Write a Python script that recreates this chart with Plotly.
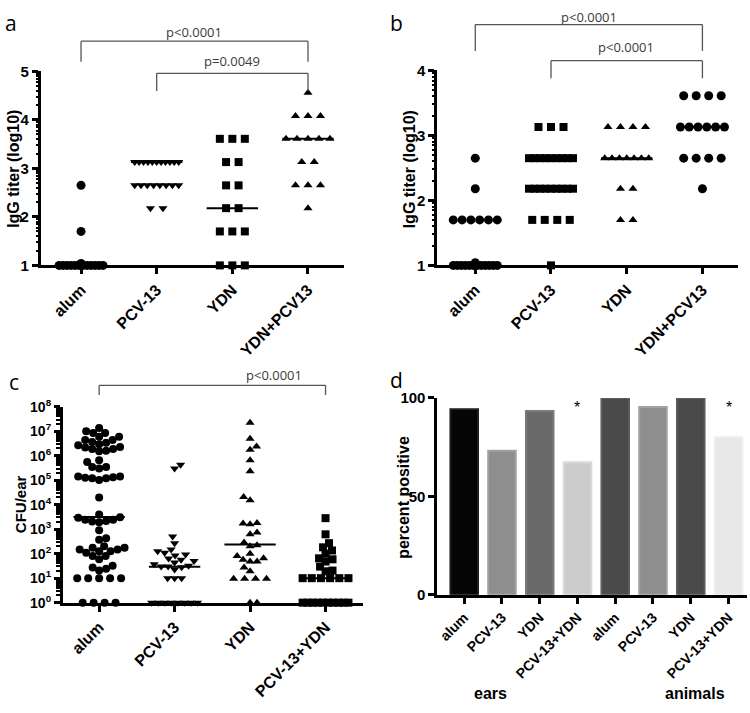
import numpy as np
import plotly.graph_objects as go

W, H = 750, 713

# ---------------- Panel a: IgG titer (log10) ----------------
a_groups = ["alum", "PCV-13", "YDN", "YDN+PCV13"]
a_alum = [2.65, 1.70, 1.04, 1.0, 1.0, 1.0, 1.0, 1.0, 1.0, 1.0, 1.0, 1.0, 1.0, 1.0, 1.0]
a_pcv = [3.13, 3.13, 3.13, 3.13, 3.13, 3.13, 3.13, 3.13, 3.13, 3.13, 3.13,
         2.65, 2.65, 2.65, 2.65, 2.65, 2.65, 2.65, 2.65, 2.18, 2.18]
a_ydn = [3.61, 3.61, 3.61, 3.13, 3.13, 2.65, 2.65, 2.18, 2.18, 1.70, 1.70, 1.70, 1.0, 1.0, 1.0]
a_combo = [4.56, 4.08, 4.08, 4.08, 3.61, 3.61, 3.61, 3.61, 3.61, 3.13, 3.13, 2.65, 2.65, 2.65, 2.18]
a_medians = [1.0, 3.13, 2.18, 3.61]

# ---------------- Panel b: IgG titer (log10) ----------------
b_groups = ["alum", "PCV-13", "YDN", "YDN+PCV13"]
b_alum = [2.65, 2.18, 1.70, 1.70, 1.70, 1.70, 1.70, 1.70, 1.04,
          1.0, 1.0, 1.0, 1.0, 1.0, 1.0, 1.0, 1.0, 1.0, 1.0, 1.0, 1.0]
b_pcv = [3.13, 3.13, 3.13, 2.65, 2.65, 2.65, 2.65, 2.65, 2.65, 2.65, 2.65, 2.65,
         2.18, 2.18, 2.18, 2.18, 2.18, 2.18, 2.18, 2.18, 2.18, 1.70, 1.70, 1.70, 1.70, 1.0]
b_ydn = [3.13, 3.13, 3.13, 3.13, 2.65, 2.65, 2.65, 2.65, 2.65, 2.65, 2.65, 2.18, 2.18, 1.70, 1.70]
b_combo = [3.61, 3.61, 3.61, 3.61, 3.13, 3.13, 3.13, 3.13, 3.13, 3.13, 2.65, 2.65, 2.65, 2.65, 2.18]
b_medians = [1.0, 2.18, 2.65, 3.13]

# ---------------- Panel c: CFU/ear (log10 of CFU) ----------------
c_groups = ["alum", "PCV-13", "YDN", "PCV-13+YDN"]
c_alum_log = [7.13, 7.0, 6.93, 6.77, 6.77, 6.93, 6.64, 6.53, 6.43, 6.34, 6.27, 6.2, 6.18, 6.27,
              6.36, 6.47, 6.56, 6.64, 5.81, 5.74, 5.54, 5.48, 5.54, 5.15, 5.1, 5.08, 5.01, 5.08,
              5.12, 5.15, 4.29, 3.6, 3.49, 3.47, 3.39, 3.39, 3.33, 3.31, 3.28, 2.96, 2.63, 2.57,
              2.3, 2.24, 2.24, 2.17, 2.17, 2.1, 2.1, 2.04, 1.9, 1.9, 1.77, 1.51, 1.44, 1.38, 1.31,
              1.0, 1.0, 1.0, 1.0, 1.0, 0.0, 0.0, 0.0, 0.0]
c_pcv_log = [5.48, 5.63, 2.7, 2.43, 2.17, 2.1, 2.04, 1.97, 1.93, 1.8, 1.75, 1.7, 1.64, 1.57,
             1.51, 1.48, 1.48, 1.45, 1.35, 1.0, 1.0, 1.0, 0.0, 0.0, 0.0, 0.0, 0.0, 0.0, 0.0, 0.0]
c_ydn_log = [7.35, 6.69, 6.38, 6.24, 5.81, 5.37, 4.31, 4.18, 3.23, 3.2, 3.25, 2.79, 2.86, 2.34,
             2.3, 2.46, 1.9, 1.75, 1.68, 1.68, 1.81, 2.0, 1.44, 1.28, 0.98, 0.98, 0.98, 0.98, 0.0, 0.0]
c_combo_log = [3.45, 2.79, 2.43, 2.26, 2.13, 2.0, 1.81, 1.68, 1.77, 1.31, 1.47, 1.28,
               1.0, 1.0, 1.0, 1.0, 1.0, 1.0, 0.0, 0.0, 0.0, 0.0, 0.0, 0.0, 0.0, 0.0, 0.0, 0.0]
c_medians_log = [3.5, 1.47, 2.37, 1.0]

# ---------------- Panel d: percent positive ----------------
d_labels = ["alum", "PCV-13", "YDN", "PCV-13+YDN", "alum", "PCV-13", "YDN", "PCV-13+YDN"]
d_values = [94.3, 73.2, 93.4, 67.3, 100, 95.4, 100, 80.2]
d_fill = ["#050505", "#8e8e8e", "#6a6a6a", "#cccccc", "#4a4a4a", "#8e8e8e", "#4a4a4a", "#e8e8e8"]
d_edge = ["#1e1e1e", "#a2a2a2", "#7a7a7a", "#d9d9d9", "#5c5c5c", "#a2a2a2", "#5c5c5c", "#efefef"]

# ---------------- helpers ----------------
CAT_PX = 75.7  # pixels per category in the dot plots


def row_offsets(vals, spacing=12.5, maxspan=44.0, unit=CAT_PX):
    vals = np.asarray(vals, dtype=float)
    offs = np.zeros(len(vals))
    for v in np.unique(vals):
        idx = np.where(vals == v)[0]
        n = len(idx)
        if n > 1:
            span = min((n - 1) * spacing, maxspan)
            offs[idx] = np.linspace(-span / 2, span / 2, n) / unit
    return offs


def beeswarm(vals, ypx_per_unit, d=7.0, unit=CAT_PX, maxspan=46.0):
    vals = np.asarray(vals, dtype=float)
    offs = np.zeros(len(vals))
    uniq, counts = np.unique(vals, return_counts=True)
    order = np.argsort(vals, kind="stable")
    placed = []
    flip = 1
    for i in order:
        y = vals[i] * ypx_per_unit
        n_same = counts[np.searchsorted(uniq, vals[i])]
        if n_same >= 4:
            continue
        found = None
        k = 0
        while found is None:
            cands = [0.0] if k == 0 else [flip * k * 0.5, -flip * k * 0.5]
            for x in cands:
                if all((x - px) ** 2 + (y - py) ** 2 >= d * d for px, py in placed):
                    found = x
                    break
            k += 1
        if found != 0:
            flip = -flip
        placed.append((found, y))
        offs[i] = found / unit
    for v, n in zip(uniq, counts):
        if n >= 4:
            idx = np.where(vals == v)[0]
            span = min((n - 1) * 11.0, maxspan)
            offs[idx] = np.linspace(-span / 2, span / 2, n) / unit
    return offs


def dx(px):
    return px / W


def dy(py):
    return 1 - py / H


BOLD = dict(family="Liberation Sans, Arial, sans-serif", color="black", weight="bold")
fig = go.Figure()


def add_dots(xa, ya, groups_vals, symbols, sizes):
    for i, (vals, sym, sz) in enumerate(zip(groups_vals, symbols, sizes)):
        offs = row_offsets(vals)
        fig.add_trace(go.Scatter(
            x=i + offs, y=vals, mode="markers", xaxis=xa, yaxis=ya,
            marker=dict(symbol=sym, size=sz, color="black", line=dict(width=0)),
            cliponaxis=False, showlegend=False, hoverinfo="skip"))


def add_medians(xa, ya, meds, half=0.34):
    for i, m in enumerate(meds):
        fig.add_trace(go.Scatter(
            x=[i - half, i + half], y=[m, m], mode="lines", xaxis=xa, yaxis=ya,
            line=dict(color="black", width=2), cliponaxis=False,
            showlegend=False, hoverinfo="skip"))


add_dots("x", "y", [a_alum, a_pcv, a_ydn, a_combo],
         ["circle", "triangle-down", "square", "triangle-up"], [9, 8, 8, 8])
add_medians("x", "y", a_medians)

add_dots("x2", "y2", [b_alum, b_pcv, b_ydn, b_combo],
         ["circle", "square", "triangle-up", "circle"], [9, 8, 8, 9])
add_medians("x2", "y2", b_medians)

c_lists = [c_alum_log, c_pcv_log, c_ydn_log, c_combo_log]
c_syms = ["circle", "triangle-down", "triangle-up", "square"]
for i, (vals, sym) in enumerate(zip(c_lists, c_syms)):
    offs = beeswarm(vals, 25.2, d=7.0)
    fig.add_trace(go.Scatter(
        x=i + offs, y=[10 ** v for v in vals], mode="markers", xaxis="x3", yaxis="y3",
        marker=dict(symbol=sym, size=8, color="black", line=dict(width=0)),
        cliponaxis=False, showlegend=False, hoverinfo="skip"))
for i, m in enumerate(c_medians_log):
    fig.add_trace(go.Scatter(
        x=[i - 0.34, i + 0.34], y=[10 ** m, 10 ** m], mode="lines", xaxis="x3", yaxis="y3",
        line=dict(color="black", width=2), cliponaxis=False, showlegend=False, hoverinfo="skip"))

fig.add_trace(go.Bar(
    x=list(range(len(d_values))), y=d_values, xaxis="x4", yaxis="y4", width=0.73,
    marker=dict(color=d_fill, line=dict(color=d_edge, width=2)),
    showlegend=False, hoverinfo="skip"))

fig.add_trace(go.Scatter(x=[0], y=[1], xaxis="x", yaxis="y5", mode="markers",
                         marker=dict(opacity=0), showlegend=False, hoverinfo="skip"))
fig.add_trace(go.Scatter(x=[0], y=[1], xaxis="x2", yaxis="y6", mode="markers",
                         marker=dict(opacity=0), showlegend=False, hoverinfo="skip"))


def xax(dom, rng, labels, anchor, size=16):
    return dict(domain=dom, range=rng, anchor=anchor, tickmode="array",
                tickvals=list(range(len(labels))), ticktext=labels, tickangle=-45,
                tickfont=dict(size=size, **BOLD), ticks="outside", ticklen=6, tickwidth=3,
                tickcolor="black", showline=True, linewidth=3, linecolor="black",
                showgrid=False, zeroline=False, fixedrange=True)


def yax(dom, rng, tvals, anchor, minor=None, ttext=None, typ="linear", size=15):
    d = dict(domain=dom, range=rng, anchor=anchor, tickmode="array", tickvals=tvals,
             tickfont=dict(size=size, **BOLD), ticks="outside", ticklen=6, tickwidth=3,
             tickcolor="black", showline=True, linewidth=3, linecolor="black",
             showgrid=False, zeroline=False, type=typ, fixedrange=True)
    if ttext is not None:
        d["ticktext"] = ttext
    if minor is not None:
        d["minor"] = dict(tickmode="array", tickvals=minor, ticks="outside", ticklen=4,
                          tickwidth=2, tickcolor="black", showgrid=False)
    return d


def minor_axis(over, anchor, rng, vals):
    return dict(overlaying=over, anchor=anchor, side="left", range=rng, tickmode="array",
                tickvals=vals, ticks="outside", ticklen=4, tickwidth=2, tickcolor="black",
                showticklabels=False, showline=False, showgrid=False, zeroline=False,
                fixedrange=True)


def log_minor(lo, hi):
    return [n + np.log10(k) for n in range(lo, hi) for k in range(2, 10)]


layout_axes = dict(
    xaxis=xax([dx(40), dx(343)], [-0.53, 3.47], a_groups, "y"),
    yaxis=yax([dy(262), dy(63)], [1, 5], [1, 2, 3, 4, 5], "x"),
    yaxis5=minor_axis("y", "x", [1, 5], log_minor(1, 5)),
    xaxis2=xax([dx(437), dx(738)], [-0.50, 3.47], b_groups, "y2"),
    yaxis2=yax([dy(262), dy(62)], [1, 4], [1, 2, 3, 4], "x2"),
    yaxis6=minor_axis("y2", "x2", [1, 4], log_minor(1, 4)),
    xaxis3=xax([dx(62), dx(362)], [-0.48, 3.49], c_groups, "y3"),
    yaxis3=yax([dy(608), dy(407)], [0, 8], [10 ** n for n in range(9)], "x3",
               minor=[k * 10 ** n for n in range(8) for k in range(2, 10)],
               ttext=["10<sup>%d</sup>" % n for n in range(9)], typ="log", size=14),
    xaxis4=xax([dx(437), dx(747)], [-0.71, 7.49], d_labels, "y4", size=14),
    yaxis4=yax([dy(600), dy(398)], [0, 100], [0, 50, 100], "x4", size=15),
)

ann = []
shapes = []
LETTER = dict(family="Open Sans, sans-serif", size=21, color="black")
PFONT = dict(family="Open Sans, sans-serif", size=13, color="#3a3a3a")

for txt, x, y in [("a", 10, 13), ("b", 396, 13), ("c", 13, 382), ("d", 396, 380)]:
    ann.append(dict(text=txt, x=dx(x), y=dy(y), xref="paper", yref="paper",
                    showarrow=False, xanchor="center", yanchor="middle", font=LETTER))

for txt, x, y, s in [("IgG titer (log10)", 13, 163, 16), ("IgG titer (log10)", 409, 163, 16),
                     ("CFU/ear", 19, 507, 15), ("percent positive", 403, 500, 16)]:
    ann.append(dict(text=txt, x=dx(x), y=dy(y), xref="paper", yref="paper", textangle=-90,
                    showarrow=False, xanchor="center", yanchor="middle",
                    font=dict(size=s, **BOLD)))


def bracket(xref, i0, i1, top, leg, label, lx_paper, ly):
    for (xa, ya, xb, yb) in [(i0, leg, i0, top), (i0, top, i1, top), (i1, top, i1, leg)]:
        shapes.append(dict(type="line", xref=xref, yref="paper", x0=xa, x1=xb,
                           y0=dy(ya), y1=dy(yb), line=dict(color="#555555", width=1.3)))
    ann.append(dict(text=label, x=lx_paper, y=dy(ly), xref="paper", yref="paper",
                    showarrow=False, xanchor="center", yanchor="middle", font=PFONT))


bracket("x", 0, 3, 32, 53, "p<0.0001", dx(193), 23)
bracket("x", 1, 3, 65, 83, "p=0.0049", dx(231), 52)
bracket("x2", 0, 3, 15, 42, "p<0.0001", dx(589), 7)
bracket("x2", 1, 3, 52, 70, "p<0.0001", dx(626), 38)
bracket("x3", 0, 3, 385, 395, "p<0.0001", dx(273), 374)

for x in [3, 7]:
    ann.append(dict(text="*", x=x, y=dy(408), xref="x4", yref="paper", showarrow=False,
                    xanchor="center", yanchor="middle",
                    font=dict(family="Liberation Sans, Arial", size=16, color="black")))

for txt, x in [("ears", 490), ("animals", 695)]:
    ann.append(dict(text=txt, x=dx(x), y=dy(701), xref="paper", yref="paper",
                    showarrow=False, xanchor="center", yanchor="middle",
                    font=dict(size=16, **BOLD)))

fig.update_layout(
    width=W, height=H, margin=dict(l=0, r=0, t=0, b=0),
    paper_bgcolor="white", plot_bgcolor="white", showlegend=False,
    annotations=ann, shapes=shapes, **layout_axes)

fig.write_html("out.html", config={"displayModeBar": False},
               post_script="document.body.style.margin='0px';")
